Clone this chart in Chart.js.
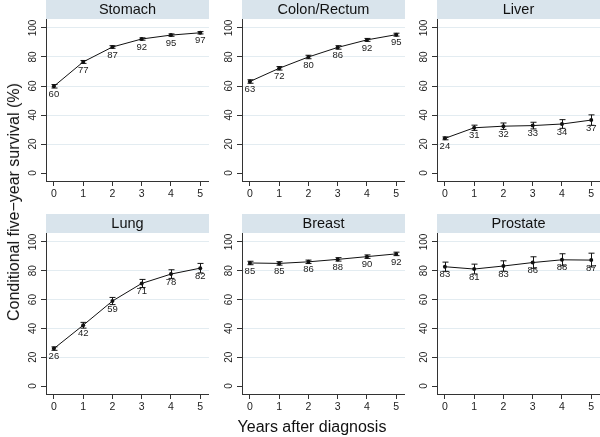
<!DOCTYPE html>
<html>
<head>
<meta charset="utf-8">
<script src="https://cdn.jsdelivr.net/npm/chart.js@4.4.1/dist/chart.umd.min.js"></script>
<style>
  html, body { margin: 0; padding: 0; background: #fff; }
  #wrap { position: relative; width: 600px; height: 437px; overflow: hidden; font-family: "Liberation Sans", Arial, sans-serif; color: #111; }
  #wrap canvas { position: absolute; }
  .ytitle { position: absolute; left: 14px; top: 202px; transform: translate(-50%, -50%) rotate(-90deg); font-size: 16px; white-space: nowrap; }
  .xtitle { position: absolute; left: 312px; top: 427px; transform: translate(-50%, -50%); font-size: 16px; white-space: nowrap; }
</style>
</head>
<body>
<div id="wrap">
  <canvas id="c0"></canvas>
  <canvas id="c1"></canvas>
  <canvas id="c2"></canvas>
  <canvas id="c3"></canvas>
  <canvas id="c4"></canvas>
  <canvas id="c5"></canvas>
  <div class="ytitle">Conditional five−year survival (%)</div>
  <div class="xtitle">Years after diagnosis</div>
</div>
<script>
// years after diagnosis (x axis)
const years = [0, 1, 2, 3, 4, 5];
const yTicks = [0, 20, 40, 60, 80, 100];

// conditional five-year survival, point estimate + 95% CI, per cancer site
const stomach      = [59.8, 76.6, 86.9, 92.4, 95.1, 96.7];
const stomachLow   = [58.6, 75.6, 86.0, 91.6, 94.3, 95.9];
const stomachHigh  = [61.0, 77.6, 87.8, 93.2, 95.9, 97.5];
const stomachLbl   = ['60', '77', '87', '92', '95', '97'];

const colon        = [63.1, 72.2, 80.0, 86.6, 91.8, 95.4];
const colonLow     = [61.9, 71.0, 78.8, 85.4, 90.8, 94.4];
const colonHigh    = [64.3, 73.4, 81.2, 87.8, 92.8, 96.4];
const colonLbl     = ['63', '72', '80', '86', '92', '95'];

const liver        = [23.9, 31.2, 32.3, 32.7, 33.8, 36.5];
const liverLow     = [22.9, 29.4, 30.1, 30.4, 30.8, 32.9];
const liverHigh    = [24.9, 33.0, 34.5, 35.0, 36.8, 40.1];
const liverLbl     = ['24', '31', '32', '33', '34', '37'];

const lung         = [26.0, 42.2, 59.0, 71.2, 77.7, 81.8];
const lungLow      = [24.8, 40.2, 56.5, 68.4, 74.7, 78.5];
const lungHigh     = [27.2, 44.2, 61.5, 74.0, 80.7, 85.1];
const lungLbl      = ['26', '42', '59', '71', '78', '82'];

const breast       = [85.4, 85.1, 86.2, 87.9, 89.8, 91.7];
const breastLow    = [84.2, 83.9, 85.0, 86.7, 88.6, 90.5];
const breastHigh   = [86.6, 86.3, 87.4, 89.1, 91.0, 92.9];
const breastLbl    = ['85', '85', '86', '88', '90', '92'];

const prostate     = [82.8, 81.2, 83.3, 85.7, 87.6, 87.4];
const prostateLow  = [79.6, 77.8, 79.7, 81.7, 83.4, 82.6];
const prostateHigh = [86.0, 84.6, 86.9, 89.7, 91.8, 92.2];
const prostateLbl  = ['83', '81', '83', '86', '88', '87'];

const panels = [
  { id: 'c0', title: 'Stomach',     vals: stomach,  lo: stomachLow,  hi: stomachHigh,  lbl: stomachLbl,  plotLeft: 46,  row: 0 },
  { id: 'c1', title: 'Colon/Rectum', vals: colon,   lo: colonLow,    hi: colonHigh,    lbl: colonLbl,    plotLeft: 242, row: 0 },
  { id: 'c2', title: 'Liver',       vals: liver,    lo: liverLow,    hi: liverHigh,    lbl: liverLbl,    plotLeft: 437, row: 0 },
  { id: 'c3', title: 'Lung',        vals: lung,     lo: lungLow,     hi: lungHigh,     lbl: lungLbl,     plotLeft: 46,  row: 1 },
  { id: 'c4', title: 'Breast',      vals: breast,   lo: breastLow,   hi: breastHigh,   lbl: breastLbl,   plotLeft: 242, row: 1 },
  { id: 'c5', title: 'Prostate',    vals: prostate, lo: prostateLow, hi: prostateHigh, lbl: prostateLbl, plotLeft: 437, row: 1 }
];

const FONT = '"Liberation Sans", Arial, sans-serif';
const STRIP_H = 19;
const Y_AXIS_W = 40;
const PLOT_W = 163;
// row geometry: canvas top, canvas height, plot bottom (x axis line)
const rows = [
  { top: 0,   height: 214, bottom: 181 },
  { top: 214, height: 223, bottom: 394 }
];

const panelDecor = {
  id: 'panelDecor',
  beforeDraw(chart, args, opts) {
    const { ctx, chartArea } = chart;
    ctx.save();
    ctx.fillStyle = '#d9e4ec';
    ctx.fillRect(chartArea.left, chartArea.top - STRIP_H, chartArea.right - chartArea.left, STRIP_H);
    ctx.fillStyle = '#111';
    ctx.font = '14.5px ' + FONT;
    ctx.textAlign = 'center';
    ctx.textBaseline = 'middle';
    ctx.fillText(opts.title, (chartArea.left + chartArea.right) / 2, chartArea.top - STRIP_H / 2 + 0.5);
    ctx.restore();
  },
  afterDatasetsDraw(chart, args, opts) {
    const { ctx } = chart;
    const xs = chart.scales.x, ys = chart.scales.y;
    ctx.save();
    ctx.strokeStyle = '#111';
    ctx.lineWidth = 1;
    years.forEach((yr, i) => {
      const x = Math.round(xs.getPixelForValue(yr)) + 0.5;
      const y1 = ys.getPixelForValue(opts.lo[i]);
      const y2 = ys.getPixelForValue(opts.hi[i]);
      ctx.beginPath();
      ctx.moveTo(x, y1); ctx.lineTo(x, y2);
      ctx.moveTo(x - 3, y1); ctx.lineTo(x + 3, y1);
      ctx.moveTo(x - 3, y2); ctx.lineTo(x + 3, y2);
      ctx.stroke();
    });
    ctx.fillStyle = '#222';
    ctx.font = '9.5px ' + FONT;
    ctx.textAlign = 'center';
    ctx.textBaseline = 'middle';
    years.forEach((yr, i) => {
      ctx.fillText(opts.lbl[i], xs.getPixelForValue(yr), ys.getPixelForValue(opts.vals[i]) + 8);
    });
    ctx.restore();
  }
};

panels.forEach(p => {
  const r = rows[p.row];
  const canvas = document.getElementById(p.id);
  canvas.width = Y_AXIS_W + PLOT_W;
  canvas.height = r.height;
  canvas.style.left = (p.plotLeft - Y_AXIS_W) + 'px';
  canvas.style.top = r.top + 'px';
  const xAxisH = r.height - (r.bottom - r.top);

  new Chart(canvas.getContext('2d'), {
    type: 'line',
    data: {
      datasets: [{
        data: years.map((yr, i) => ({ x: yr, y: p.vals[i] })),
        borderColor: '#111',
        borderWidth: 1,
        pointRadius: 2,
        pointBackgroundColor: '#111',
        pointBorderWidth: 0,
        tension: 0,
        clip: false
      }]
    },
    options: {
      responsive: false,
      animation: false,
      events: [],
      layout: { autoPadding: false, padding: { top: STRIP_H, right: 0, left: 0, bottom: 0 } },
      plugins: {
        legend: { display: false },
        tooltip: { enabled: false },
        panelDecor: { title: p.title, vals: p.vals, lo: p.lo, hi: p.hi, lbl: p.lbl }
      },
      scales: {
        x: {
          type: 'linear',
          min: -0.27,
          max: 5.3,
          afterBuildTicks: s => { s.ticks = years.map(v => ({ value: v })); },
          afterFit: s => { s.height = xAxisH; },
          grid: { drawOnChartArea: false, tickLength: 5, tickColor: '#333' },
          border: { color: '#333', width: 1 },
          ticks: { color: '#222', font: { family: FONT, size: 10.5 }, padding: 2, maxRotation: 0, autoSkip: false }
        },
        y: {
          min: -5.5,
          max: 106.2,
          afterBuildTicks: s => { s.ticks = yTicks.map(v => ({ value: v })); },
          afterFit: s => { s.width = Y_AXIS_W; },
          grid: {
            color: ctx => ctx.tick && ctx.tick.value === 0 ? 'rgba(0,0,0,0)' : '#e3ecf1',
            tickLength: 5,
            tickColor: '#333'
          },
          border: { color: '#333', width: 1 },
          ticks: {
            color: '#222',
            font: { family: FONT, size: 10 },
            padding: -1,
            minRotation: 90,
            maxRotation: 90,
            crossAlign: 'center',
            autoSkip: false
          }
        }
      }
    },
    plugins: [panelDecor]
  });
});
</script>
</body>
</html>
